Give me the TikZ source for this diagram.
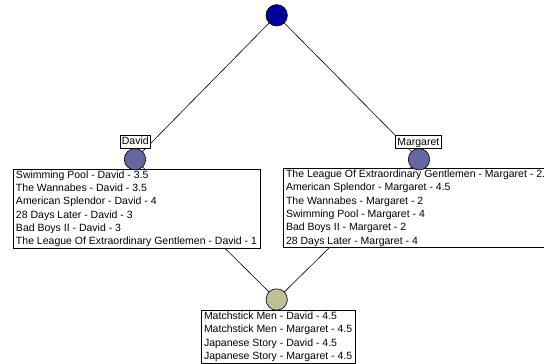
\documentclass[tikz,border=0pt]{standalone}
\usepackage{fontspec}
\setmainfont{Liberation Sans}
\usetikzlibrary{backgrounds}
\definecolor{topc}{RGB}{0,0,153}
\definecolor{midc}{RGB}{102,102,160}
\definecolor{botc}{RGB}{192,192,150}
\begin{document}
\begin{tikzpicture}[x=1pt,y=-1pt,
  dot/.style={circle,draw,line width=0.6pt,minimum size=21.4pt,inner sep=0pt},
  lbl/.style={draw,fill=white,line width=0.6pt,inner xsep=2pt,inner ysep=1.3pt,text height=8pt,text depth=2pt,font=\fontsize{10.5}{12}\selectfont},
  list/.style={draw,fill=white,line width=0.6pt,align=left,anchor=north west,inner xsep=3pt,inner ysep=1.5pt,font=\fontsize{10.5}{13.3}\selectfont},
  link/.style={line width=0.6pt}]
\useasboundingbox (0,0) rectangle (544,364);
\clip (0,0) rectangle (544,364);
\node[list] (dlist) at (12.7,168.7) {Swimming Pool - David - 3.5\\The Wannabes - David - 3.5\\American Splendor - David - 4\\28 Days Later - David - 3\\Bad Boys II - David - 3\\The League Of Extraordinary Gentlemen - David - 1};
\node[list] (mlist) at (282.7,168.2) {The League Of Extraordinary Gentlemen - Margaret - 2.5\\American Splendor - Margaret - 4.5\\The Wannabes - Margaret - 2\\Swimming Pool - Margaret - 4\\Bad Boys II - Margaret - 2\\28 Days Later - Margaret - 4};
\node[list] (blist) at (200.7,310) {Matchstick Men - David - 4.5\\Matchstick Men - Margaret - 4.5\\Japanese Story - David - 4.5\\Japanese Story - Margaret - 4.5};
\node[dot,fill=topc] (top) at (276.7,15.3) {};
\node[dot,fill=midc] (david) at (135,159.3) {};
\node[dot,fill=midc] (marg) at (419,159.3) {};
\node[dot,fill=botc] (bot) at (276.7,299.5) {};
\node[lbl] (dlab) at (135.3,141.5) {David};
\node[lbl] (mlab) at (418.3,142) {Margaret};
\begin{scope}[on background layer]
\draw[link] (top.center) -- (david.center);
\draw[link] (top.center) -- (marg.center);
\draw[link] (david.center) -- (bot.center);
\draw[link] (marg.center) -- (bot.center);
\end{scope}
\end{tikzpicture}
\end{document}
